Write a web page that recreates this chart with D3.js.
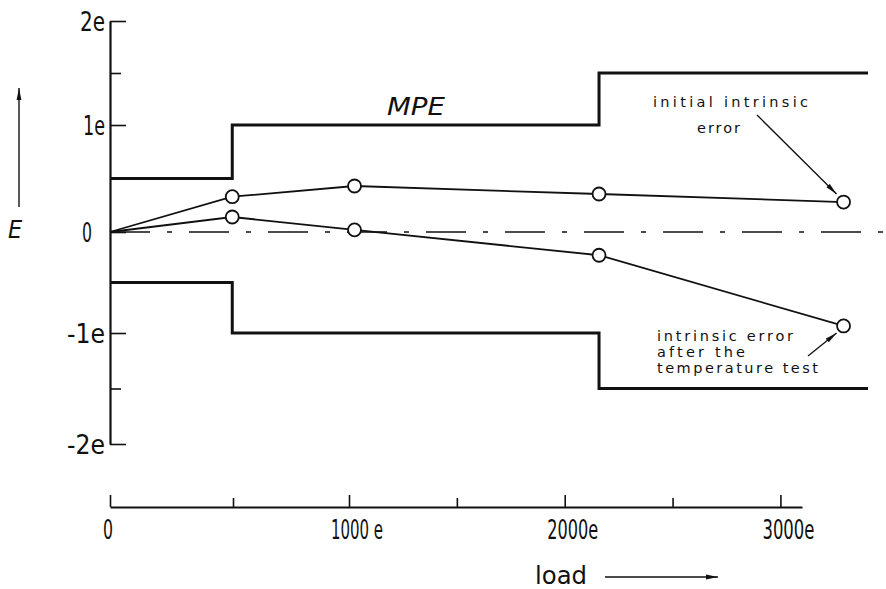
<!DOCTYPE html>
<html>
<head>
<meta charset="utf-8">
<script src="https://cdn.jsdelivr.net/npm/d3@7"></script>
<style>
  body { margin: 0; background: #fff; }
  svg { display: block; }
  .lbl { font-family: "DejaVu Sans Condensed", "DejaVu Sans", sans-serif; fill: #111; }
  .note { font-family: "DejaVu Sans", sans-serif; font-size: 14.5px; fill: #111; }
</style>
</head>
<body>
<script>
// loads on the x axis and the two error curves (in units of e)
const loads = [0, 500, 1000, 2000, 3000];
const initialError = [0, 0.33, 0.43, 0.355, 0.28];
const afterTempError = [0, 0.14, 0.02, -0.23, -0.93];

// MPE steps
const mpeLoads = [0, 500, 2000, 3100];
const mpeValues = [0.5, 1, 1.5, 1.5];

// axis ticks
const yTicks = [-2, -1, 0, 1, 2];
const yTickLabels = ["-2e", "-1e", "0", "1e", "2e"];
const yMinor = [-1.5, 1.5];
const xTicks = [0, 1000, 2000, 3000];
const xTickLabels = ["0", "1000 e", "2000e", "3000e"];
const xMinor = [500, 1500, 2500];

const width = 886, height = 589;

var svg = d3.select("body").append("svg")
    .attr("width", width)
    .attr("height", height);

svg.append("defs").append("marker")
    .attr("id", "head")
    .attr("viewBox", "0 0 12 6")
    .attr("refX", 12).attr("refY", 3)
    .attr("markerWidth", 12).attr("markerHeight", 6)
    .attr("markerUnits", "userSpaceOnUse")
    .attr("orient", "auto")
  .append("path")
    .attr("d", "M0,0.6 L12,3 L0,5.4 Z")
    .attr("fill", "#111");

// plot scales (scan is a little stretched, so y is piecewise)
var x = d3.scaleLinear().domain([0, 3100]).range([110, 868]);
var y = d3.scaleLinear().domain([-2, -1, 0, 1, 2]).range([444, 333, 232, 125, 21]);
// the separate load axis underneath has its own spacing
var xa = d3.scaleLinear().domain([0, 500, 1000, 3100]).range([110, 233, 349, 802]);

// squeeze a label into the width it has in the scan
function fit(sel, widths) {
  sel.attr("textLength", function(d, i) { return widths[i]; })
     .attr("lengthAdjust", "spacingAndGlyphs");
}

// y axis: ticks inside, labels left
var yAxis = svg.append("g")
    .attr("transform", "translate(" + x(0) + ",0)")
    .call(d3.axisLeft(y).tickValues(yTicks).tickSizeInner(-16).tickSizeOuter(0).tickPadding(5)
      .tickFormat(function(d, i) { return yTickLabels[i]; }));
yAxis.attr("font-family", null).attr("font-size", null);
yAxis.select(".domain").attr("stroke-width", 2.2).attr("stroke", "#111");
yAxis.selectAll(".tick line").attr("stroke-width", 1.6).attr("stroke", "#111");
yAxis.selectAll(".tick text")
    .attr("class", "lbl")
    .style("font-size", "26px")
    .attr("dy", "0.36em")
    .attr("x", function(d) { return d === 0 ? -18 : -5; })
    .call(fit, [38, 38, 10, 22, 25]);

var yMin = svg.append("g")
    .attr("transform", "translate(" + x(0) + ",0)")
    .call(d3.axisLeft(y).tickValues(yMinor).tickSizeInner(-11).tickSizeOuter(0).tickFormat(""));
yMin.select(".domain").remove();
yMin.selectAll(".tick line").attr("stroke-width", 1.6).attr("stroke", "#111");

// load axis
var axisY = 507;
var xAxis = svg.append("g")
    .attr("transform", "translate(0," + axisY + ")")
    .call(d3.axisTop(xa).tickValues(xTicks).tickSizeInner(12).tickSizeOuter(0).tickFormat(""));
xAxis.select(".domain").attr("stroke-width", 2).attr("stroke", "#111");
xAxis.selectAll(".tick line").attr("stroke-width", 1.6).attr("stroke", "#111");

var xMin = svg.append("g")
    .attr("transform", "translate(0," + axisY + ")")
    .call(d3.axisTop(xa).tickValues(xMinor).tickSizeInner(9).tickSizeOuter(0).tickFormat(""));
xMin.select(".domain").remove();
xMin.selectAll(".tick line").attr("stroke-width", 1.6).attr("stroke", "#111");

svg.selectAll(".xlab")
    .data(xTicks)
  .enter().append("text")
    .attr("class", "lbl")
    .attr("x", function(d) { return xa(d) + (d === 0 ? -2 : 8); })
    .attr("y", 539)
    .attr("text-anchor", "middle")
    .style("font-size", "26px")
    .text(function(d, i) { return xTickLabels[i]; })
    .call(fit, [10, 52, 51, 52]);

// zero reference line, dash-dot
svg.append("line")
    .attr("x1", x(0)).attr("x2", width)
    .attr("y1", y(0)).attr("y2", y(0))
    .attr("stroke", "#111").attr("stroke-width", 1.4)
    .attr("stroke-dasharray", "40,17,5,17");

// MPE limits
var mpe = mpeLoads.map(function(d, i) { return [d, mpeValues[i]]; });
var step = d3.line()
    .x(function(d) { return x(d[0]); })
    .y(function(d) { return y(d[1]); })
    .curve(d3.curveStepAfter);

svg.append("path")
    .attr("d", step(mpe))
    .attr("fill", "none").attr("stroke", "#111").attr("stroke-width", 3);
svg.append("path")
    .attr("d", step(mpe.map(function(d) { return [d[0], -d[1]]; })))
    .attr("fill", "none").attr("stroke", "#111").attr("stroke-width", 3);

// error curves
var series = [initialError, afterTempError];
var line = d3.line()
    .x(function(d, i) { return x(loads[i]); })
    .y(function(d) { return y(d); });

series.forEach(function(vals) {
  svg.append("path")
      .attr("d", line(vals))
      .attr("fill", "none").attr("stroke", "#111").attr("stroke-width", 1.8);
  svg.selectAll(null)
      .data(vals.slice(1))
    .enter().append("circle")
      .attr("cx", function(d, i) { return x(loads[i + 1]); })
      .attr("cy", function(d) { return y(d); })
      .attr("r", 6.5)
      .attr("fill", "#fff").attr("stroke", "#111").attr("stroke-width", 1.8);
});

// labels
svg.append("text")
    .attr("class", "lbl")
    .attr("x", 387).attr("y", 115)
    .style("font-size", "25px").style("font-style", "italic")
    .attr("textLength", 58).attr("lengthAdjust", "spacingAndGlyphs")
    .text("MPE");

var notes = [
  ["initial intrinsic", 653, 107, 155],
  ["error", 697, 133, 43],
  ["intrinsic error", 657, 341, 136],
  ["after the", 657, 357, 88],
  ["temperature test", 657, 373, 161]
];
svg.selectAll(".note")
    .data(notes)
  .enter().append("text")
    .attr("class", "note")
    .attr("x", function(d) { return d[1]; })
    .attr("y", function(d) { return d[2]; })
    .attr("textLength", function(d) { return d[3]; })
    .attr("lengthAdjust", "spacing")
    .text(function(d) { return d[0]; });

var last = loads.length - 1;
svg.append("line")
    .attr("x1", 757).attr("y1", 115)
    .attr("x2", x(loads[last]) - 7).attr("y2", y(initialError[last]) - 8)
    .attr("stroke", "#111").attr("stroke-width", 1.3)
    .attr("marker-end", "url(#head)");
svg.append("line")
    .attr("x1", 808).attr("y1", 356)
    .attr("x2", x(loads[last]) - 7).attr("y2", y(afterTempError[last]) + 7)
    .attr("stroke", "#111").attr("stroke-width", 1.3)
    .attr("marker-end", "url(#head)");

// axis titles
svg.append("text")
    .attr("class", "lbl")
    .attr("x", 8).attr("y", 238)
    .style("font-size", "25px").style("font-style", "italic")
    .text("E");
svg.append("line")
    .attr("x1", 19).attr("y1", 207).attr("x2", 19).attr("y2", 88)
    .attr("stroke", "#111").attr("stroke-width", 1.4)
    .attr("marker-end", "url(#head)");

svg.append("text")
    .attr("class", "lbl")
    .attr("x", 535).attr("y", 584)
    .style("font-size", "25px")
    .attr("textLength", 52).attr("lengthAdjust", "spacingAndGlyphs")
    .text("load");
svg.append("line")
    .attr("x1", 605).attr("y1", 577).attr("x2", 718).attr("y2", 577)
    .attr("stroke", "#111").attr("stroke-width", 1.3)
    .attr("marker-end", "url(#head)");
</script>
</body>
</html>
